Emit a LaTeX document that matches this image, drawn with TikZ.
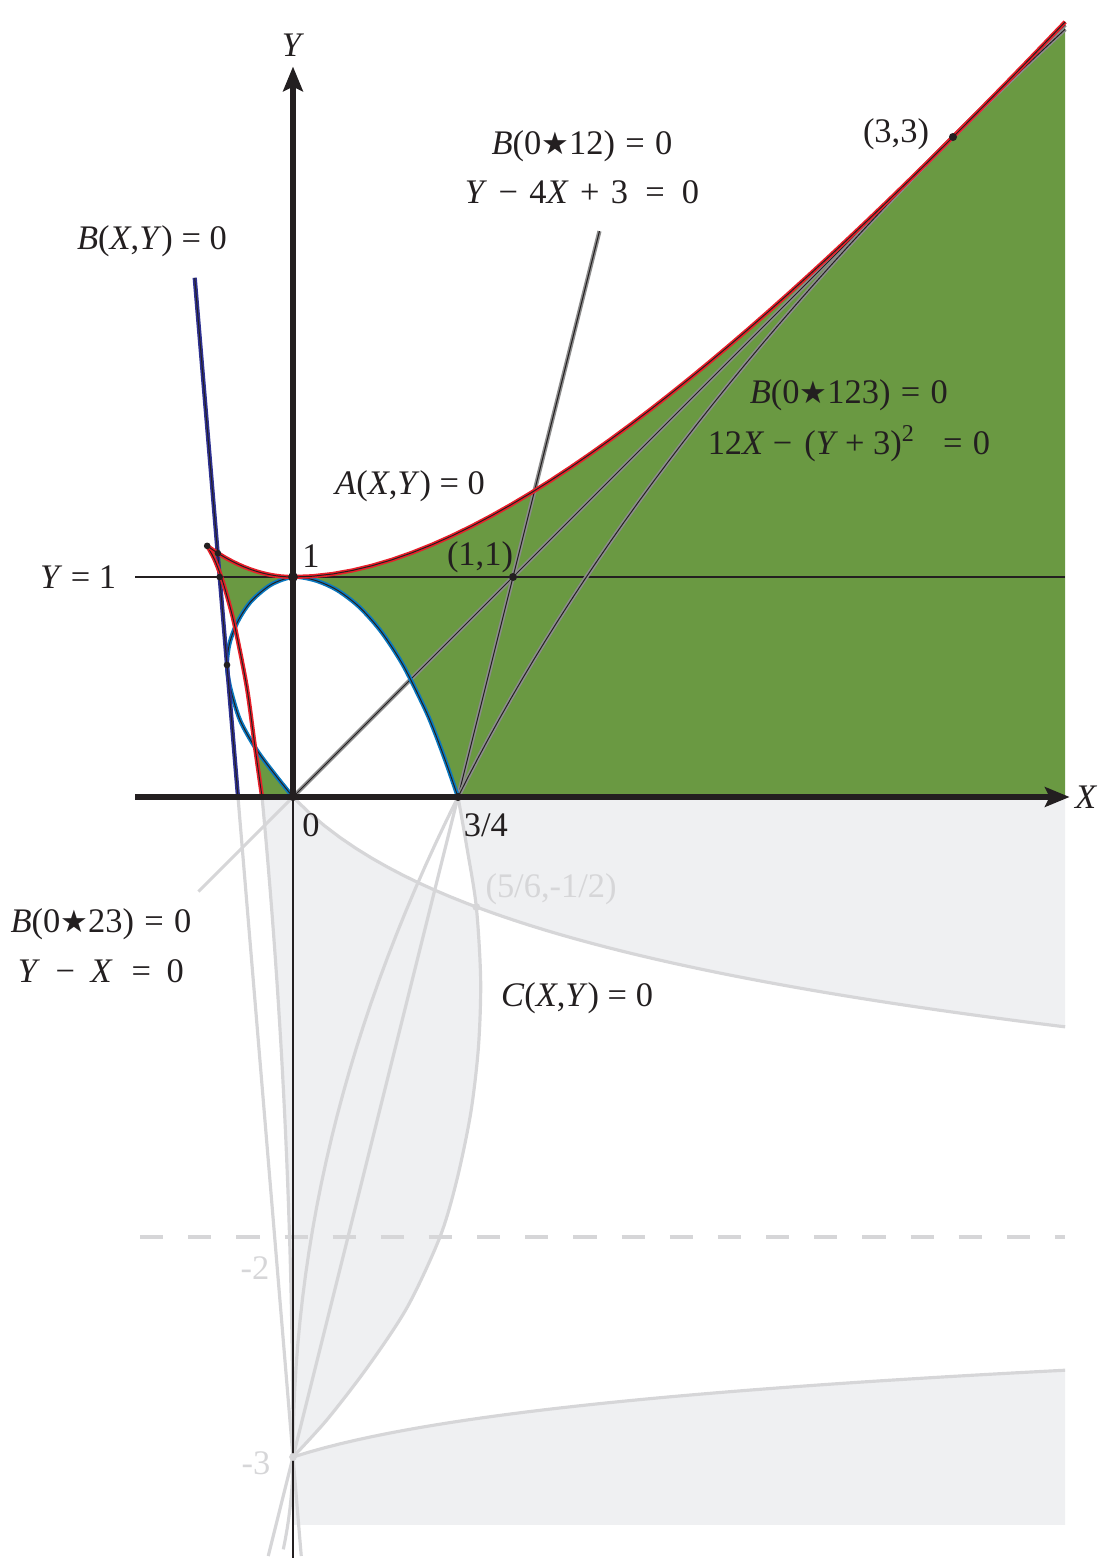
\documentclass[tikz,border=0pt]{standalone}
\usepackage{fontspec}
\setmainfont{Liberation Serif}
\newfontfamily\starfont[Scale=0.9]{DejaVu Sans}
\usetikzlibrary{arrows.meta}

\definecolor{curvered}{HTML}{E8202A}
\definecolor{navyline}{HTML}{2E3192}
\definecolor{ovalblue}{HTML}{0A78C0}
\definecolor{regiongreen}{HTML}{6A9942}
\definecolor{shadegrey}{HTML}{EFF0F2}
\definecolor{faintgrey}{HTML}{D6D6D8}
\definecolor{inkblack}{HTML}{231F20}

\newcommand{\bstar}{{\starfont ★}}
\newcommand{\wsp}{\hspace{0.33em}}

\begin{document}
\begin{tikzpicture}[x=2.2cm, y=2.2cm,
    >={Stealth[length=7pt, width=5.6pt, inset=1.3pt]}, % axis arrow tips
    every node/.style={font=\fontsize{9.8}{12}\selectfont, text=inkblack},
    axis/.style={->, line width=1.7pt, draw=inkblack}, % thick axes
    faint/.style={draw=faintgrey, line width=0.9pt}, % curves below the X axis
    twotone/.style={preaction={draw=#1, line width=1.2pt}, draw=inkblack, line width=0.28pt},
    dot/.style={circle, fill=inkblack, inner sep=0pt, minimum size=2.3pt},
    faintdot/.style={circle, fill=faintgrey, inner sep=0pt, minimum size=2.2pt}
]
    \useasboundingbox (-1.3318,-3.4773) rectangle (3.6864,3.6227);

    % Key points
    \coordinate (O) at (0,0);
    \coordinate (Q) at (0.75,0);
    \coordinate (N) at (0.8333,-0.5);
    \coordinate (S) at (0,-3);
    \coordinate (E) at (0,1);
    \coordinate (U) at (1,1);
    \coordinate (T) at (3,3);
    \coordinate (K) at (-0.39,1.1415);
    \coordinate (P) at (-0.3,0.6);

    % Shaded regions below the X axis
    \fill[shadegrey] (Q) -- (3.51,0)
        -- plot[domain=3.51:0.8333, samples=40] ({\x},{-0.487*ln(1+2.15*\x)})
        -- plot[smooth] coordinates {(0.8333,-0.5) (0.79,-0.227) (0.75,0)} -- cycle;
    \fill[shadegrey] (-0.1406,0)
        -- plot[domain=0:0.8333, samples=25] ({\x},{-0.487*ln(1+2.15*\x)})
        -- plot[smooth] coordinates {(0.8333,-0.5) (0.853,-0.832) (0.843,-1.136) (0.808,-1.436) (0.745,-1.74) (0.668,-2) (0.52,-2.318) (0.34,-2.59) (0.155,-2.83) (0,-3)}
        -- plot[domain=-3:0, variable=\t, samples=30] ({-((\t+3)*(\t+3))/64},\t) -- cycle;
    \fill[shadegrey] (0,-3.309)
        -- plot[domain=0:3.51, samples=40] ({\x},{-3+0.215*ln(1+1.5*\x)})
        -- (3.51,-3.309) -- cycle;

    % Green region inside A(X,Y)=0
    \fill[regiongreen]
        plot[smooth] coordinates {(-0.1406,0) (-0.173,0.229) (-0.21,0.5) (-0.264,0.774) (-0.296,0.9) (-0.326,1) (-0.357,1.08) (-0.39,1.1415)}
        -- plot[domain=-0.39:0, samples=15] ({\x},{1+0.93*\x*\x})
        -- plot[domain=0:3.51, samples=40] ({\x},{1+4*\x*\x/(9+3*\x)})
        -- (3.51,0) -- cycle;
    \fill[white] plot[smooth] coordinates {(0,0) (-0.074,0.092) (-0.165,0.214) (-0.241,0.35) (-0.286,0.5) (-0.3,0.6) (-0.288,0.7) (-0.25,0.8) (-0.19,0.89) (-0.1,0.965) (0,1) (0.1,0.985) (0.2,0.941) (0.3,0.865) (0.4,0.753) (0.5,0.6) (0.6,0.4) (0.65,0.28) (0.7,0.145) (0.75,0)} -- cycle;

    % Faint curves below the X axis
    \draw[faint] (O) -- (-0.43,-0.43);
    \draw[faint] (Q) -- (-0.1125,-3.45);
    \draw[faint] plot[domain=-3:0, variable=\t, samples=30] ({(\t+3)*(\t+3)/12},\t);
    \draw[faint] (-0.25,0) -- (0.0375,-3.45);
    \draw[faint] plot[domain=-3:0, variable=\t, samples=30] ({-((\t+3)*(\t+3))/64},\t);
    \draw[faint] plot[domain=-3.42:-3, variable=\t, samples=10] ({-((\t+3)*(\t+3))/4},\t);
    \draw[faint] plot[domain=0:3.51, samples=50] ({\x},{-0.487*ln(1+2.15*\x)});
    \draw[faint] plot[smooth] coordinates {(0.75,0) (0.79,-0.227) (0.8333,-0.5) (0.853,-0.832) (0.843,-1.136) (0.808,-1.436) (0.745,-1.74) (0.668,-2) (0.52,-2.318) (0.34,-2.59) (0.155,-2.83) (0,-3)};
    \draw[faint] plot[domain=0:3.51, samples=50] ({\x},{-3+0.215*ln(1+1.5*\x)});
    \draw[draw=faintgrey, line width=1.4pt, dash pattern=on 6.6pt off 7.1pt] (-0.695,-2) -- (3.51,-2);

    % Thin lines
    \draw[inkblack, line width=0.5pt] (O) -- (0,-3.46);
    \draw[inkblack, line width=0.55pt] (-0.718,1) -- (3.51,1);

    % Lines B(0*12), B(0*23) and parabola B(0*123)
    \draw[twotone=gray!90] (O) -- (3.51,3.51);
    \draw[twotone=gray!90] (Q) -- (1.393,2.572);
    \draw[twotone=gray!90] plot[domain=0:3.49, variable=\t, samples=40] ({(\t+3)*(\t+3)/12},\t);

    % B(X,Y)=0: oval and line
    \draw[twotone=ovalblue] plot[smooth] coordinates {(0,0) (-0.074,0.092) (-0.165,0.214) (-0.241,0.35) (-0.286,0.5) (-0.3,0.6) (-0.288,0.7) (-0.25,0.8) (-0.19,0.89) (-0.1,0.965) (0,1) (0.1,0.985) (0.2,0.941) (0.3,0.865) (0.4,0.753) (0.5,0.6) (0.6,0.4) (0.65,0.28) (0.7,0.145) (0.75,0)};
    \draw[twotone=navyline] (-0.4467,2.36) -- (-0.25,0);

    % A(X,Y)=0
    \draw[twotone=curvered] plot[smooth] coordinates {(-0.1406,0) (-0.173,0.229) (-0.21,0.5) (-0.264,0.774) (-0.296,0.9) (-0.326,1) (-0.357,1.08) (-0.39,1.1415)};
    \draw[twotone=curvered] plot[domain=-0.39:0, samples=15] ({\x},{1+0.93*\x*\x}) -- plot[domain=0:3.51, samples=40] ({\x},{1+4*\x*\x/(9+3*\x)});

    % Axes
    \draw[axis] (-0.718,0) -- (3.53,0);
    \draw[axis] (O) -- (0,3.32);

    % Points
    \node[dot] (dotO) at (O) {};
    \node[dot] (dotQ) at (Q) {};
    \node[dot, minimum size=2.8pt] (dotE) at (E) {};
    \node[dot] (dotU) at (U) {};
    \node[dot] (dotT) at (T) {};
    \node[dot, minimum size=1.9pt] (dotK) at (K) {};
    \node[dot, minimum size=1.9pt] (dotP) at (P) {};
    \node[dot, minimum size=1.9pt] (dotL) at (-0.3333,1) {};
    \node[dot, minimum size=1.9pt] (dotM) at (-0.3413,1.108) {};
    \node[faintdot] (dotN) at (N) {};
    \node[faintdot] (dotS) at (S) {};

    % Labels
    \node (lblY) at (0,3.418) {\textit{Y}};
    \node (lblX) at (3.605,0) {\textit{X}};
    \node (lblB12) at (1.314,2.959) {\textit{B}(0\bstar12)\hspace{0.3em}=\hspace{0.3em}0};
    \node (eqB12) at (1.314,2.75) {\textit{Y}\wsp−\wsp 4\textit{X}\wsp+\wsp 3\hspace{0.5em}=\hspace{0.5em}0};
    \node (lblB) at (-0.641,2.527) {\textit{B}(\textit{X},\textit{Y}) = 0};
    \node (lblB123) at (2.527,1.827) {\textit{B}(0\bstar123)\hspace{0.3em}=\hspace{0.3em}0};
    \node (eqB123) at (2.527,1.605) {12\textit{X}\hspace{0.25em}−\hspace{0.35em}(\textit{Y}\hspace{0.2em}+\hspace{0.25em}3)\textsuperscript{2}\hspace{0.8em}=\hspace{0.3em}0};
    \node (lblA) at (0.532,1.414) {\textit{A}(\textit{X},\textit{Y}) = 0};
    \node (lblT) at (2.741,3.014) {(3,3)};
    \node (lblU) at (0.85,1.091) {(1,1)};
    \node (lblE) at (0.082,1.095) {1};
    \node (lblY1) at (-0.977,1) {\textit{Y} = 1};
    \node (lblO) at (0.082,-0.127) {0};
    \node (lblQ) at (0.877,-0.127) {3/4};
    \node[text=faintgrey] (lblN) at (1.173,-0.418) {(5/6,-1/2)};
    \node (lblB23) at (-0.873,-0.577) {\textit{B}(0\bstar23)\hspace{0.3em}=\hspace{0.3em}0};
    \node (eqB23) at (-0.873,-0.791) {\textit{Y}\hspace{0.45em}−\hspace{0.45em}\textit{X}\hspace{0.55em}=\hspace{0.45em}0};
    \node (lblC) at (1.291,-0.914) {\textit{C}(\textit{X},\textit{Y}) = 0};
    \node[text=faintgrey] (lblM2) at (-0.173,-2.141) {-2};
    \node[text=faintgrey] (lblM3) at (-0.168,-3.027) {-3};
\end{tikzpicture}
\end{document}
